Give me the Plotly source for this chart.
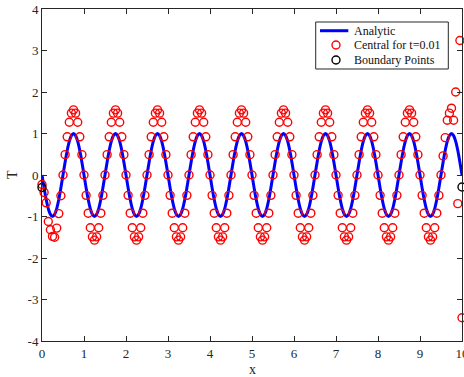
import plotly.graph_objects as go

# grid positions (x) for sampled values, step 0.05 from 0 to 10
x_start = 0.0
x_step = 0.05
n_points = 201
x_grid = [round(x_start + i * x_step, 4) for i in range(n_points)]

analytic_T = [
    0.00, -0.31, -0.59, -0.81, -0.95, -1.00, -0.95, -0.81, -0.59, -0.31, 0.00, 0.31, 0.59, 0.81, 0.95, 1.00, 0.95, 0.81, 0.59, 0.31,
    0.00, -0.31, -0.59, -0.81, -0.95, -1.00, -0.95, -0.81, -0.59, -0.31, 0.00, 0.31, 0.59, 0.81, 0.95, 1.00, 0.95, 0.81, 0.59, 0.31,
    0.00, -0.31, -0.59, -0.81, -0.95, -1.00, -0.95, -0.81, -0.59, -0.31, 0.00, 0.31, 0.59, 0.81, 0.95, 1.00, 0.95, 0.81, 0.59, 0.31,
    0.00, -0.31, -0.59, -0.81, -0.95, -1.00, -0.95, -0.81, -0.59, -0.31, 0.00, 0.31, 0.59, 0.81, 0.95, 1.00, 0.95, 0.81, 0.59, 0.31,
    0.00, -0.31, -0.59, -0.81, -0.95, -1.00, -0.95, -0.81, -0.59, -0.31, 0.00, 0.31, 0.59, 0.81, 0.95, 1.00, 0.95, 0.81, 0.59, 0.31,
    0.00, -0.31, -0.59, -0.81, -0.95, -1.00, -0.95, -0.81, -0.59, -0.31, 0.00, 0.31, 0.59, 0.81, 0.95, 1.00, 0.95, 0.81, 0.59, 0.31,
    0.00, -0.31, -0.59, -0.81, -0.95, -1.00, -0.95, -0.81, -0.59, -0.31, 0.00, 0.31, 0.59, 0.81, 0.95, 1.00, 0.95, 0.81, 0.59, 0.31,
    0.00, -0.31, -0.59, -0.81, -0.95, -1.00, -0.95, -0.81, -0.59, -0.31, 0.00, 0.31, 0.59, 0.81, 0.95, 1.00, 0.95, 0.81, 0.59, 0.31,
    0.00, -0.31, -0.59, -0.81, -0.95, -1.00, -0.95, -0.81, -0.59, -0.31, 0.00, 0.31, 0.59, 0.81, 0.95, 1.00, 0.95, 0.81, 0.59, 0.31,
    0.00, -0.31, -0.59, -0.81, -0.95, -1.00, -0.95, -0.81, -0.59, -0.31, 0.00, 0.31, 0.59, 0.81, 0.95, 1.00, 0.95, 0.81, 0.59, 0.31,
    0.00,
]

# Central-difference numerical values at t=0.01
central_T = [
    -0.23, -0.42, -0.67, -1.12, -1.32, -1.48, -1.50, -1.28, -0.93, -0.50, 0.00, 0.49, 0.92, 1.27, 1.49, 1.57, 1.49, 1.27, 0.92, 0.49,
    0.00, -0.49, -0.92, -1.27, -1.49, -1.57, -1.49, -1.27, -0.92, -0.49, 0.00, 0.49, 0.92, 1.27, 1.49, 1.57, 1.49, 1.27, 0.92, 0.49,
    0.00, -0.49, -0.92, -1.27, -1.49, -1.57, -1.49, -1.27, -0.92, -0.49, 0.00, 0.49, 0.92, 1.27, 1.49, 1.57, 1.49, 1.27, 0.92, 0.49,
    0.00, -0.49, -0.92, -1.27, -1.49, -1.57, -1.49, -1.27, -0.92, -0.49, 0.00, 0.49, 0.92, 1.27, 1.49, 1.57, 1.49, 1.27, 0.92, 0.49,
    0.00, -0.49, -0.92, -1.27, -1.49, -1.57, -1.49, -1.27, -0.92, -0.49, 0.00, 0.49, 0.92, 1.27, 1.49, 1.57, 1.49, 1.27, 0.92, 0.49,
    0.00, -0.49, -0.92, -1.27, -1.49, -1.57, -1.49, -1.27, -0.92, -0.49, 0.00, 0.49, 0.92, 1.27, 1.49, 1.57, 1.49, 1.27, 0.92, 0.49,
    0.00, -0.49, -0.92, -1.27, -1.49, -1.57, -1.49, -1.27, -0.92, -0.49, 0.00, 0.49, 0.92, 1.27, 1.49, 1.57, 1.49, 1.27, 0.92, 0.49,
    0.00, -0.49, -0.92, -1.27, -1.49, -1.57, -1.49, -1.27, -0.92, -0.49, 0.00, 0.49, 0.92, 1.27, 1.49, 1.57, 1.49, 1.27, 0.92, 0.49,
    0.00, -0.49, -0.92, -1.27, -1.49, -1.57, -1.49, -1.27, -0.92, -0.49, 0.00, 0.49, 0.92, 1.27, 1.49, 1.57, 1.49, 1.27, 0.92, 0.49,
    0.00, -0.49, -0.92, -1.27, -1.49, -1.57, -1.49, -1.27, -0.92, -0.49, 0.00, 0.46, 0.90, 1.32, 1.49, 1.61, 1.32, 2.00, -0.69, 3.24,
    -3.44,
]

# Boundary points
boundary_x = [0.0, 10.0]
boundary_T = [-0.30, -0.29]

x_ticks = [0, 1, 2, 3, 4, 5, 6, 7, 8, 9, 10]
y_ticks = [-4, -3, -2, -1, 0, 1, 2, 3, 4]

legend_labels = ["Analytic", "Central for t=0.01", "Boundary Points"]

FONT = "Liberation Serif"
TXT = "#262626"
BLUE = "#0000ff"
RED = "#ff0000"
BLACK = "#000000"

fig = go.Figure()
fig.add_trace(go.Scatter(
    x=x_grid, y=analytic_T, mode="lines", name=legend_labels[0],
    line=dict(color=BLUE, width=3, shape="spline", smoothing=1.0),
    cliponaxis=False, showlegend=False,
))
fig.add_trace(go.Scatter(
    x=x_grid, y=central_T, mode="markers", name=legend_labels[1],
    marker=dict(symbol="circle-open", size=8, color=RED, line=dict(width=1.4)),
    cliponaxis=False, showlegend=False,
))
fig.add_trace(go.Scatter(
    x=boundary_x, y=boundary_T, mode="markers", name=legend_labels[2],
    marker=dict(symbol="circle-open", size=8, color=BLACK, line=dict(width=1.4)),
    cliponaxis=False, showlegend=False,
))

axis_common = dict(
    showgrid=False, zeroline=False, showline=True, linecolor="#262626", linewidth=1,
    mirror="ticks", ticks="inside", ticklen=5, tickwidth=1, tickcolor="#262626",
    tickfont=dict(family=FONT, size=13, color=TXT), automargin=False,
    ticklabeloverflow="allow",
)
fig.update_xaxes(range=[0, 10], tickvals=x_ticks, ticktext=[str(v) for v in x_ticks], **axis_common)
fig.update_yaxes(range=[-4, 4], tickvals=y_ticks, ticktext=[str(v) for v in y_ticks], **axis_common)

# axis titles
fig.add_annotation(text="x", xref="paper", yref="paper", x=0.5, y=-0.087,
                   showarrow=False, font=dict(family=FONT, size=14, color=TXT),
                   xanchor="center", yanchor="middle")
fig.add_annotation(text="T", xref="paper", yref="paper", x=-0.0714, y=0.5, textangle=-90,
                   showarrow=False, font=dict(family=FONT, size=14, color=TXT),
                   xanchor="center", yanchor="middle")

# legend box drawn in paper space
fig.add_shape(type="rect", xref="paper", yref="paper", x0=0.6517, x1=0.9674, y0=0.8193, y1=0.9608,
              line=dict(color="#262626", width=1), fillcolor="white", layer="above")
row_y = [0.9346, 0.8916, 0.8464]
fig.add_shape(type="line", xref="paper", yref="paper", x0=0.6619, x1=0.7293, y0=row_y[0], y1=row_y[0],
              line=dict(color=BLUE, width=3), layer="above")
for yy, col in [(row_y[1], RED), (row_y[2], BLACK)]:
    fig.add_shape(type="circle", xref="paper", yref="paper", xsizemode="pixel", ysizemode="pixel",
                  xanchor=0.700, yanchor=yy, x0=-4, x1=4, y0=-4, y1=4,
                  line=dict(color=col, width=1.4), layer="above")
for yy, lab in zip(row_y, legend_labels):
    fig.add_annotation(text=lab, xref="paper", yref="paper", x=0.7374, y=yy,
                       xanchor="left", yanchor="middle", showarrow=False,
                       font=dict(family=FONT, size=12, color="#111111"))

fig.update_layout(
    width=464, height=377,
    margin=dict(l=42, r=2, t=9, b=36, autoexpand=False),
    paper_bgcolor="white", plot_bgcolor="white",
    showlegend=False,
)

fig.write_html(
    "out.html",
    config={"displayModeBar": False},
    post_script="document.body.style.margin='0';document.body.style.overflow='hidden';",
)
